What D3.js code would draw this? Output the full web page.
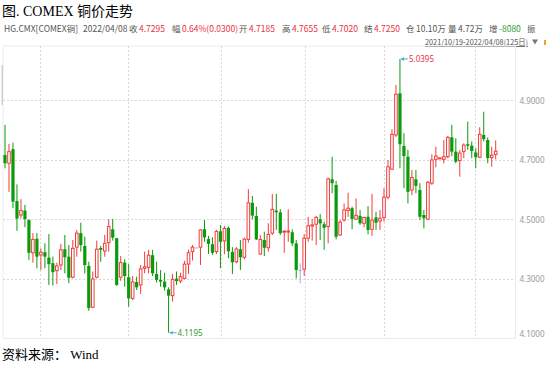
<!DOCTYPE html>
<html><head><meta charset="utf-8">
<script src="https://cdn.jsdelivr.net/npm/d3@7"></script>
<style>html,body{margin:0;padding:0;background:#fff;}svg{display:block;}</style>
</head><body>
<script>
// ---- data ----
const openP = [
4.717,4.689,4.736,4.562,4.515,4.530,4.498,4.388,4.435,4.381,
4.390,4.372,4.353,4.328,4.347,4.400,4.375,4.306,4.407,4.454,
4.411,4.344,4.205,4.306,4.404,4.394,4.422,4.467,4.437,4.306,
4.355,4.306,4.235,4.290,4.280,4.336,4.339,4.380,4.317,4.297,
4.291,4.265,4.244,4.301,4.293,4.302,4.350,4.392,4.406,4.407,
4.467,4.434,4.417,4.392,4.460,4.428,4.472,4.391,4.358,4.400,
4.373,4.433,4.556,4.512,4.384,4.431,4.405,4.454,4.530,4.524,
4.458,4.458,4.457,4.420,4.330,4.333,4.437,4.478,4.484,4.501,
4.484,4.476,4.635,4.616,4.448,4.498,4.530,4.538,4.501,4.512,
4.487,4.509,4.467,4.507,4.495,4.507,4.575,4.669,4.784,4.924,
4.747,4.711,4.599,4.635,4.599,4.515,4.501,4.622,4.702,4.704,
4.702,4.711,4.776,4.728,4.698,4.728,4.753,4.748,4.725,4.709,
4.784,4.767,4.708,4.7185];
const closeP = [
4.689,4.728,4.560,4.503,4.530,4.501,4.388,4.433,4.375,4.390,
4.375,4.350,4.323,4.344,4.398,4.373,4.304,4.403,4.454,4.414,
4.347,4.202,4.300,4.400,4.398,4.420,4.476,4.439,4.280,4.355,
4.310,4.235,4.290,4.272,4.334,4.341,4.380,4.319,4.297,4.291,
4.272,4.244,4.299,4.293,4.308,4.350,4.388,4.407,4.406,4.465,
4.440,4.418,4.388,4.460,4.425,4.470,4.393,4.356,4.401,4.373,
4.434,4.556,4.513,4.433,4.433,4.405,4.450,4.534,4.524,4.454,
4.461,4.461,4.420,4.330,4.330,4.437,4.479,4.482,4.507,4.487,
4.472,4.636,4.622,4.442,4.491,4.532,4.538,4.502,4.514,4.487,
4.507,4.465,4.498,4.489,4.504,4.575,4.677,4.786,4.921,4.753,
4.713,4.593,4.641,4.613,4.509,4.504,4.625,4.700,4.713,4.707,
4.711,4.776,4.728,4.694,4.723,4.750,4.748,4.730,4.709,4.786,
4.770,4.706,4.716,4.7295];
const highP = [
4.818,4.754,4.758,4.618,4.568,4.549,4.501,4.454,4.454,4.403,
4.420,4.451,4.375,4.355,4.418,4.448,4.414,4.431,4.465,4.489,
4.442,4.358,4.325,4.429,4.411,4.448,4.501,4.502,4.438,4.377,
4.366,4.350,4.310,4.308,4.347,4.392,4.398,4.398,4.358,4.330,
4.321,4.272,4.317,4.325,4.321,4.361,4.398,4.414,4.406,4.467,
4.498,4.445,4.440,4.465,4.481,4.478,4.476,4.407,4.407,4.431,
4.439,4.602,4.579,4.543,4.448,4.459,4.487,4.586,4.586,4.535,
4.463,4.534,4.467,4.431,4.353,4.451,4.509,4.502,4.512,4.518,
4.493,4.641,4.711,4.630,4.498,4.554,4.590,4.543,4.571,4.532,
4.509,4.545,4.586,4.526,4.532,4.605,4.700,4.803,4.952,5.0395,
4.790,4.734,4.666,4.666,4.622,4.532,4.629,4.719,4.745,4.708,
4.767,4.781,4.818,4.773,4.734,4.756,4.829,4.762,4.739,4.810,
4.862,4.776,4.745,4.7655];
const lowP = [
4.672,4.593,4.538,4.462,4.503,4.474,4.364,4.355,4.336,4.330,
4.336,4.280,4.278,4.283,4.330,4.319,4.286,4.302,4.375,4.392,
4.319,4.193,4.202,4.302,4.358,4.375,4.392,4.429,4.277,4.294,
4.274,4.207,4.229,4.263,4.250,4.319,4.319,4.310,4.288,4.274,
4.261,4.1195,4.224,4.280,4.286,4.299,4.317,4.362,4.406,4.347,
4.425,4.384,4.381,4.384,4.336,4.383,4.370,4.317,4.353,4.330,
4.366,4.422,4.501,4.431,4.382,4.377,4.392,4.448,4.465,4.448,
4.388,4.425,4.411,4.302,4.286,4.310,4.425,4.429,4.414,4.431,
4.398,4.420,4.588,4.433,4.445,4.493,4.509,4.467,4.498,4.482,
4.474,4.450,4.445,4.465,4.465,4.493,4.568,4.666,4.777,4.672,
4.605,4.554,4.582,4.588,4.498,4.470,4.498,4.616,4.675,4.703,
4.689,4.706,4.713,4.689,4.644,4.706,4.734,4.706,4.672,4.706,
4.762,4.689,4.677,4.702];
const yTicks = [4.1, 4.3, 4.5, 4.7, 4.9];
const monthGridIdx = [8.75, 30.75, 54.25, 75.25, 95, 117.75];
const headerItems = [
  {label:"HG.CMX[COMEX铜]", value:"", x:4},
  {label:"2022/04/08", value:"", x:83},
  {label:"收", value:"4.7295", x:129, c:"red"},
  {label:"幅", value:"0.64%(0.0300)", x:172, c:"red"},
  {label:"开", value:"4.7185", x:239, c:"red"},
  {label:"高", value:"4.7655", x:282, c:"red"},
  {label:"低", value:"4.7020", x:322, c:"red"},
  {label:"结", value:"4.7250", x:364, c:"red"},
  {label:"仓", value:"10.10万", x:406, c:"gray"},
  {label:"量", value:"4.72万", x:448, c:"gray"},
  {label:"增", value:"-8080", x:489, c:"green"},
  {label:"振", value:"", x:527}
];
const rangeText = "2021/10/19-2022/04/08(125日)";

// ---- drawing ----
(function () {
const W = 546, H = 365;
const svg = d3.select("body").append("svg").attr("width", W).attr("height", H);
const N = openP.length;
const data = d3.range(N).map(i => ({i, o:openP[i], c:closeP[i], h:highP[i], l:lowP[i]}));

const pL = 3, pR = 515.5, pT = 46, pB = 338.5;
const x = d3.scaleLinear().domain([0, N - 1]).range([5, 495.7]);
const y = d3.scaleLinear().domain([4.1, 5.083]).range([pB, pT]);

const RED = "#f23c3c", GREEN = "#0a9a0a", BLUE = "#8db9d9";

// title
svg.append("text").attr("x", 2).attr("y", 16)
  .attr("font-family", "'Liberation Serif','DejaVu Serif','Noto Sans CJK SC',serif")
  .attr("font-size", 14).attr("fill", "#000").text("图. COMEX 铜价走势");

// header
const hdr = svg.append("g").attr("font-family", "'Noto Sans CJK SC','Noto Sans',sans-serif").attr("font-size", 8.5);
headerItems.forEach(d => {
  const t = hdr.append("text").attr("x", d.x).attr("y", 32).attr("fill", "#555");
  t.append("tspan").text(d.label);
  if (d.value) {
    t.append("tspan").attr("dx", 1.5)
      .attr("fill", d.c === "red" ? "#e8323c" : d.c === "green" ? "#2e9a2e" : "#555")
      .text(d.value);
  }
});
svg.append("text").attr("x", 425).attr("y", 45)
  .attr("font-family", "'Noto Sans CJK SC','Noto Sans',sans-serif").attr("font-size", 8)
  .attr("textLength", 103).attr("lengthAdjust", "spacingAndGlyphs")
  .attr("fill", "#555").attr("text-decoration", "underline").text(rangeText);
// dropdown triangle icon
svg.append("path").attr("d", "M532,39.5 h6 l-3,5 z").attr("fill", "#777");
svg.append("rect").attr("x", 544).attr("y", 40).attr("width", 2).attr("height", 5).attr("fill", "#f0a030");

// frame
const frame = svg.append("g").attr("stroke", "#ececec").attr("stroke-width", 1).attr("fill", "none");
frame.append("line").attr("x1", pL).attr("x2", pR).attr("y1", pT).attr("y2", pT);
frame.append("line").attr("x1", pL).attr("x2", pR).attr("y1", pB).attr("y2", pB);
frame.append("line").attr("x1", pL).attr("x2", pL).attr("y1", pT).attr("y2", pB);
frame.append("line").attr("x1", pR).attr("x2", pR).attr("y1", pT).attr("y2", pB);
svg.append("rect").attr("x", 1.5).attr("y", 65).attr("width", 1.5).attr("height", 40).attr("fill", "#d0d0d0");

// grid
const grid = svg.append("g").attr("stroke", "#d8d8d8").attr("stroke-dasharray", "2,2").attr("stroke-width", 1);
yTicks.filter(v => v > 4.1).forEach(v => {
  grid.append("line").attr("x1", pL).attr("x2", pR)
    .attr("y1", Math.round(y(v)) + 0.5).attr("y2", Math.round(y(v)) + 0.5);
});
monthGridIdx.forEach(v => {
  grid.append("line").attr("y1", pT).attr("y2", pB)
    .attr("x1", Math.round(x(v)) + 0.5).attr("x2", Math.round(x(v)) + 0.5);
});

// y axis labels (right)
const axis = d3.axisRight(y).tickValues(yTicks).tickFormat(d3.format(".4f")).tickSize(0).tickPadding(4);
const ag = svg.append("g").attr("transform", `translate(${pR},0)`).call(axis);
ag.select(".domain").remove();
ag.selectAll("text").attr("font-family", "'Noto Sans','DejaVu Sans',sans-serif")
  .attr("font-size", 8).attr("fill", "#999")
  .attr("dy", (d) => d === 4.1 ? "-0.3em" : "0.32em");

// candles
const cg = svg.append("g");
const col = d => d.c > d.o ? RED : d.c < d.o ? GREEN : BLUE;
cg.selectAll("line.wick").data(data).join("line").attr("class", "wick")
  .attr("x1", d => x(d.i)).attr("x2", d => x(d.i))
  .attr("y1", d => y(d.h)).attr("y2", d => y(d.l))
  .attr("stroke", col).attr("stroke-width", 1);
cg.selectAll("rect.body").data(data).join("rect").attr("class", "body")
  .attr("x", d => d.c > d.o ? x(d.i) - 1.3 : x(d.i) - 1.6)
  .attr("width", d => d.c > d.o ? 2.6 : 3.2)
  .attr("y", d => y(Math.max(d.o, d.c)))
  .attr("height", d => Math.max(1, Math.abs(y(d.o) - y(d.c))))
  .attr("fill", d => d.c > d.o ? "#fff" : col(d))
  .attr("stroke", d => d.c > d.o ? RED : "none")
  .attr("stroke-width", 1);

// extreme annotations
const iMax = d3.maxIndex(highP), iMin = d3.minIndex(lowP);
function annot(i, v, color) {
  const px = x(i), py = y(v);
  svg.append("line").attr("x1", px + 1).attr("x2", px + 8).attr("y1", py).attr("y2", py)
    .attr("stroke", "#5aa8d6").attr("stroke-width", 1);
  svg.append("path").attr("d", `M${px + 1},${py} l3,-2 l0,4 z`).attr("fill", "#5aa8d6");
  svg.append("text").attr("x", px + 9).attr("y", py + 3)
    .attr("font-family", "'Noto Sans','DejaVu Sans',sans-serif").attr("font-size", 8)
    .attr("fill", color).text(d3.format(".4f")(v));
}
annot(iMax, highP[iMax], "#e8323c");
annot(iMin, lowP[iMin], "#2e9a2e");

// footer
svg.append("text").attr("x", 2).attr("y", 359)
  .attr("font-family", "'Liberation Serif','DejaVu Serif','Noto Sans CJK SC',serif")
  .attr("font-size", 13).attr("fill", "#000").text("资料来源： Wind");
})();
</script>
</body></html>
